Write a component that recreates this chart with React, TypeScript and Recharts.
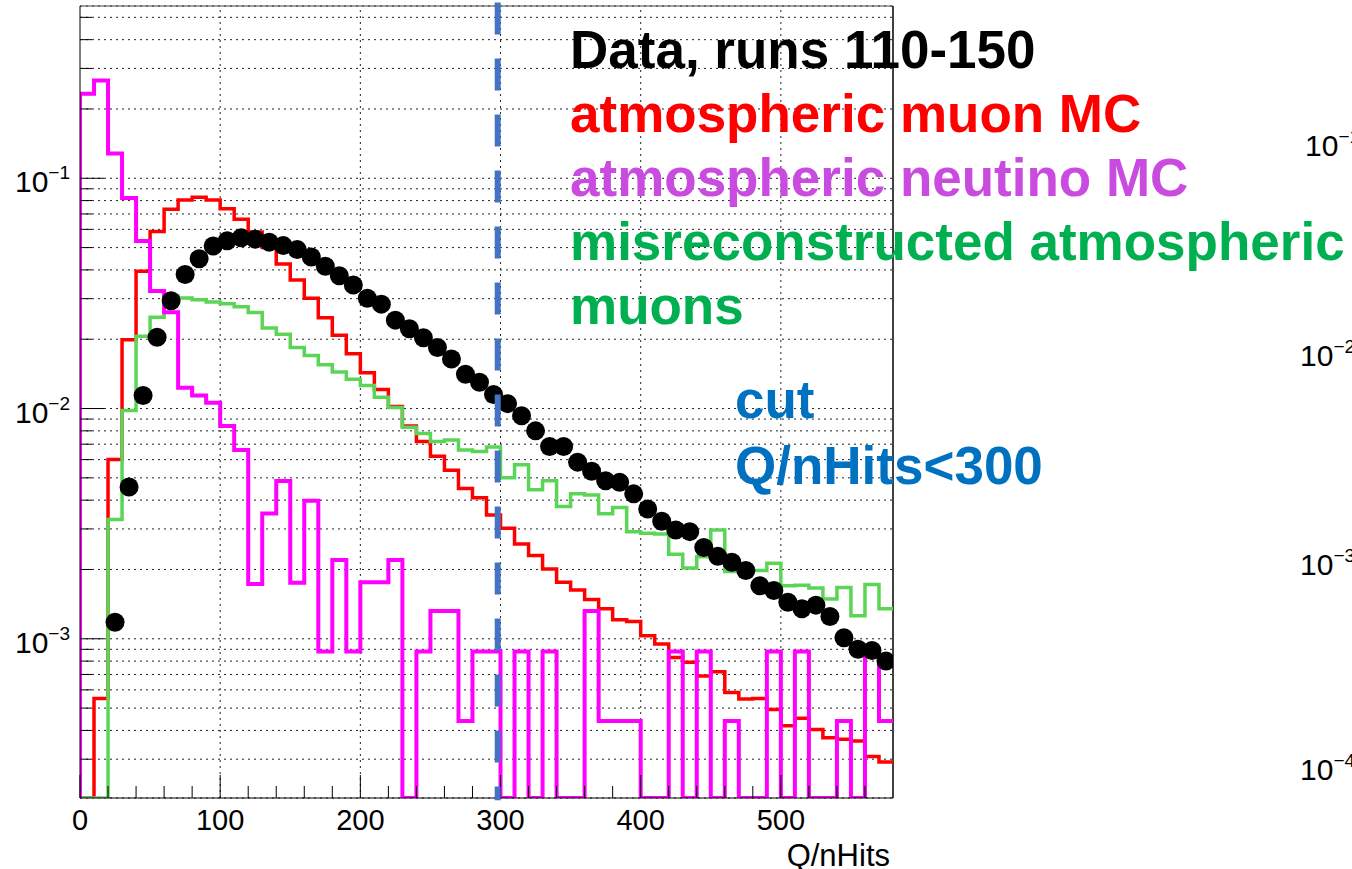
import React from 'react';
import { LineChart, Line, XAxis, YAxis, CartesianGrid, ReferenceLine } from 'recharts';

// ---------- categories: lower edges of the 10-wide Q/nHits bins ----------
const binLow = [
  0, 10, 20, 30, 40, 50, 60, 70, 80, 90,
  100, 110, 120, 130, 140, 150, 160, 170, 180, 190,
  200, 210, 220, 230, 240, 250, 260, 270, 280, 290,
  300, 310, 320, 330, 340, 350, 360, 370, 380, 390,
  400, 410, 420, 430, 440, 450, 460, 470, 480, 490,
  500, 510, 520, 530, 540, 550, 560, 570,
];
const X_MAX = 580;

// ---------- series values (normalised entries per bin, 0 = empty) ----------
const dataRuns = [
  0, 0, 0.00118, 0.00456, 0.0114, 0.0204, 0.0294, 0.0382, 0.0447, 0.0508,
  0.0535, 0.0552, 0.0544, 0.0528, 0.051, 0.049, 0.0455, 0.0415, 0.0377, 0.0344,
  0.0301, 0.0284, 0.0242, 0.0222, 0.0203, 0.0184, 0.0164, 0.0141, 0.013, 0.0115,
  0.0105, 0.0093, 0.008, 0.00684, 0.00684, 0.00585, 0.00534, 0.00486, 0.00478, 0.00426,
  0.00366, 0.00324, 0.00297, 0.00292, 0.00249, 0.00228, 0.00215, 0.00198, 0.0017, 0.00162,
  0.00144, 0.00135, 0.0014, 0.00125, 0.00101, 0.0009, 0.00089, 0.0008,
];

const muonMC = [
  0, 0.00055, 0.006, 0.0199, 0.0395, 0.0587, 0.0733, 0.0804, 0.0828, 0.0804,
  0.0738, 0.0664, 0.0585, 0.05, 0.0424, 0.0362, 0.0301, 0.0248, 0.0208, 0.0173,
  0.0143, 0.0121, 0.0102, 0.0084, 0.0072, 0.0062, 0.0054, 0.0045, 0.0041, 0.00345,
  0.00302, 0.00258, 0.0023, 0.00201, 0.00176, 0.00163, 0.00148, 0.00135, 0.00121, 0.00119,
  0.00103, 0.00095, 0.00083, 0.00079, 0.00069, 0.00072, 0.000585, 0.000547, 0.00055, 0.000493,
  0.000419, 0.000452, 0.000404, 0.000372, 0.000366, 0.00036, 0.000308, 0.000292,
];

const neutrinoMC = [
  0.233, 0.266, 0.128, 0.082, 0.0534, 0.0324, 0.0262, 0.0123, 0.0114, 0.0106,
  0.0084, 0.0066, 0.00173, 0.0035, 0.00485, 0.00175, 0.00398, 0.00088, 0.0022, 0.00088,
  0.00176, 0.00176, 0.0022, 0, 0.00088, 0.00132, 0.00132, 0.00044, 0.00088, 0.00088,
  0, 0.00088, 0, 0.00088, 0, 0, 0.00132, 0.00044, 0.00044, 0.00044,
  0, 0, 0.00088, 0, 0.00088, 0, 0.00044, 0, 0, 0.00088,
  0, 0.00088, 0, 0, 0.00044, 0, 0.00088, 0.00044,
];

const misrecoMuons = [
  0, 0, 0.0033, 0.0098, 0.0206, 0.0249, 0.0309, 0.0302, 0.0297, 0.029,
  0.0285, 0.0277, 0.0261, 0.0224, 0.021, 0.0184, 0.017, 0.0155, 0.0144, 0.0134,
  0.0126, 0.0112, 0.0101, 0.0083, 0.0078, 0.0072, 0.0073, 0.0066, 0.0065, 0.0068,
  0.005, 0.0057, 0.00444, 0.00486, 0.00375, 0.00426, 0.00421, 0.00349, 0.00372, 0.00292,
  0.00287, 0.00285, 0.00233, 0.00203, 0.00227, 0.00297, 0.00196, 0.00196, 0.00198, 0.00213,
  0.0017, 0.00171, 0.00166, 0.00149, 0.00167, 0.00126, 0.00172, 0.00135,
];

// ---------- axes ----------
const Y_MIN = 2.035e-4;
const Y_MAX = 0.56;
const xTicks = [0, 20, 40, 60, 80, 100, 120, 140, 160, 180, 200, 220, 240, 260, 280, 300, 320, 340, 360, 380, 400, 420, 440, 460, 480, 500, 520, 540, 560];
const xGridValues = [100, 200, 300, 400, 500];
const yTicks = [
  0.0003, 0.0004, 0.0005, 0.0006, 0.0007, 0.0008, 0.0009,
  0.001, 0.002, 0.003, 0.004, 0.005, 0.006, 0.007, 0.008, 0.009,
  0.01, 0.02, 0.03, 0.04, 0.05, 0.06, 0.07, 0.08, 0.09,
  0.1, 0.2, 0.3, 0.4, 0.5,
];
const yDecades = [0.001, 0.01, 0.1];
const rightPanelLabels = ['−1', '−2', '−3', '−4'];
const CUT_VALUE = 298;

const legendLines = [
  { text: 'Data, runs 110-150', color: '#000000' },
  { text: 'atmospheric muon MC', color: '#ff0000' },
  { text: 'atmospheric neutino MC', color: '#c94be0' },
  { text: 'misreconstructed atmospheric', color: '#00b050' },
  { text: 'muons', color: '#00b050' },
];
const cutLines = ['cut', 'Q/nHits<300'];

const FONT = '"Liberation Sans", Arial, Helvetica, sans-serif';

// ---------- build step tables ----------
const stepTable = (vals: number[]) => {
  const pts: { x: number; y: number }[] = [{ x: binLow[0], y: Y_MIN }];
  vals.forEach((v, i) => pts.push({ x: binLow[i], y: v > 0 ? v : Y_MIN }));
  pts.push({ x: X_MAX, y: vals[vals.length - 1] > 0 ? vals[vals.length - 1] : Y_MIN });
  return pts;
};
const pointTable = (vals: number[]) =>
  vals
    .map((v, i) => ({ x: binLow[i] + 5, y: v }))
    .filter((p) => p.y > 0);

const muonSteps = stepTable(muonMC);
const misrecoSteps = stepTable(misrecoMuons);
const neutrinoSteps = stepTable(neutrinoMC);
const dataPoints = pointTable(dataRuns);

const YTick = (props: any) => {
  const { x, y, payload } = props;
  const v = Number(payload.value);
  const major = yDecades.some((d) => Math.abs(d - v) / d < 1e-6);
  const exp = Math.round(Math.log10(v));
  return (
    <g>
      <line x1={x} x2={x + (major ? 24 : 12)} y1={y} y2={y} stroke="#000" strokeWidth={1} />
      {major && (
        <text x={x - 10} y={y + 14} textAnchor="end" fontSize={30} fontFamily={FONT} fill="#000">
          10
          <tspan fontSize={19} dy={-13}>{'−' + Math.abs(exp)}</tspan>
        </text>
      )}
    </g>
  );
};

const XTick = (props: any) => {
  const { x, y, payload } = props;
  const v = Number(payload.value);
  const major = v % 100 === 0;
  return (
    <g>
      <line x1={x} x2={x} y1={y} y2={y - (major ? 23 : 12)} stroke="#000" strokeWidth={1} />
      {major && (
        <text x={x} y={y + 32} textAnchor="middle" fontSize={29} fontFamily={FONT} fill="#000">
          {v}
        </text>
      )}
    </g>
  );
};

export default function App() {
  return (
    <div style={{ position: 'absolute', left: 0, top: 0, width: 1352, height: 869, background: '#fff' }}>
      <LineChart
        width={1352}
        height={869}
        margin={{ top: 6, right: 459, bottom: 0, left: 0 }}
      >
        <CartesianGrid vertical={false} stroke="#222" strokeDasharray="2 4" strokeWidth={1} />
        <XAxis
          type="number"
          dataKey="x"
          domain={[0, X_MAX]}
          allowDataOverflow
          ticks={xTicks}
          interval={0}
          height={71}
          tickSize={0}
          tickMargin={0}
          tickLine={false}
          tick={(p: any) => <XTick {...p} />}
          axisLine={{ stroke: '#000', strokeWidth: 1 }}
        />
        <YAxis
          type="number"
          scale="log"
          domain={[Y_MIN, Y_MAX]}
          allowDataOverflow
          ticks={yTicks}
          interval={0}
          width={80}
          tickSize={0}
          tickMargin={0}
          tickLine={false}
          tick={(p: any) => <YTick {...p} />}
          axisLine={{ stroke: '#000', strokeWidth: 1 }}
        />
        {xGridValues.map((g) => (
          <ReferenceLine key={g} x={g} stroke="#222" strokeDasharray="2 4" strokeWidth={1} />
        ))}
        <ReferenceLine y={Y_MAX} stroke="#444" strokeWidth={1} />
        <ReferenceLine x={X_MAX} stroke="#000" strokeWidth={1.5} />
        <Line
          data={muonSteps}
          dataKey="y"
          type="stepAfter"
          stroke="#ff0000"
          strokeWidth={3.5}
          dot={false}
          isAnimationActive={false}
          strokeLinejoin="miter"
        />
        <Line
          data={misrecoSteps}
          dataKey="y"
          type="stepAfter"
          stroke="#5bd556"
          strokeWidth={3.5}
          dot={false}
          isAnimationActive={false}
          strokeLinejoin="miter"
        />
        <Line
          data={neutrinoSteps}
          dataKey="y"
          type="stepAfter"
          stroke="#ff00ff"
          strokeWidth={4}
          dot={false}
          isAnimationActive={false}
          strokeLinejoin="miter"
        />
        <Line
          data={dataPoints}
          dataKey="y"
          type="linear"
          stroke="transparent"
          strokeWidth={0}
          dot={{ r: 9.5, fill: '#000', stroke: 'none' }}
          isAnimationActive={false}
        />
        <ReferenceLine
          segment={[{ x: CUT_VALUE, y: 0.58 }, { x: CUT_VALUE, y: 1.99e-4 }]}
          ifOverflow="visible"
          stroke="#4472c4"
          strokeWidth={6}
          strokeDasharray="32 24"
          zIndex={2500}
        />
      </LineChart>
      <svg
        width={1352}
        height={869}
        style={{ position: 'absolute', left: 0, top: 0, pointerEvents: 'none' }}
      >
        {legendLines.map((l, i) => (
          <text
            key={l.text}
            x={570}
            y={68 + i * 64}
            fontSize={53}
            fontWeight="bold"
            fontFamily={FONT}
            fill={l.color}
          >
            {l.text}
          </text>
        ))}
        {cutLines.map((t, i) => (
          <text
            key={t}
            x={735}
            y={418 + i * 66}
            fontSize={53}
            fontWeight="bold"
            fontFamily={FONT}
            fill="#0070c0"
          >
            {t}
          </text>
        ))}
        {rightPanelLabels.map((e, i) => (
          <text
            key={e}
            x={i === 0 ? 1305 : 1300}
            y={[156, 366, 575, 780][i]}
            fontSize={30}
            fontFamily={FONT}
            fill="#000"
          >
            10
            <tspan fontSize={19} dy={-13}>{e}</tspan>
          </text>
        ))}
        <text x={890} y={866} textAnchor="end" fontSize={31} fontFamily={FONT} fill="#000">
          Q/nHits
        </text>
      </svg>
    </div>
  );
}
